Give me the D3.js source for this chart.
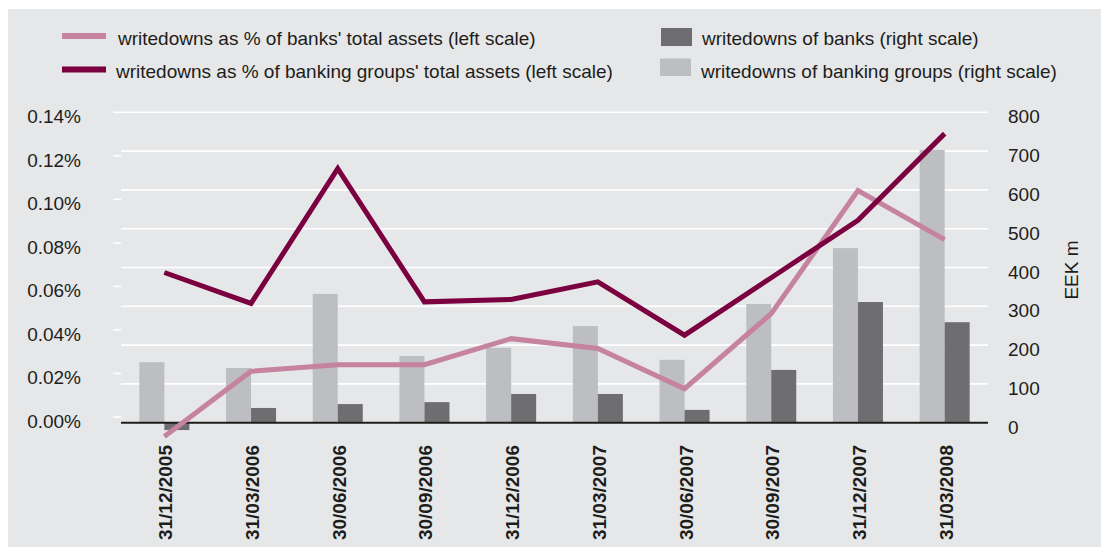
<!DOCTYPE html>
<html>
<head>
<meta charset="utf-8">
<script src="https://cdn.jsdelivr.net/npm/d3@7"></script>
<style>
  body { margin: 0; background: #ffffff; }
  text { font-family: "Liberation Sans", Arial, Helvetica, sans-serif; fill: #1d1d1b; }
</style>
</head>
<body>
<svg id="chart" width="1101" height="547"></svg>
<script>
// Quarter-end dates
const dates = ["31/12/2005", "31/03/2006", "30/06/2006", "30/09/2006", "31/12/2006",
               "31/03/2007", "30/06/2007", "30/09/2007", "31/12/2007", "31/03/2008"];

// Writedowns as % of total assets (left scale)
const banksShare  = [-0.009, 0.021, 0.024, 0.024, 0.036, 0.0315, 0.013, 0.0475, 0.104, 0.0815];
const groupsShare = [0.0664, 0.0522, 0.1141, 0.0529, 0.054, 0.0621, 0.0376, 0.064, 0.0904, 0.1302];

// Writedowns, EEK m (right scale)
const banksWritedowns  = [-19, 38, 48, 53, 74, 74, 33, 136, 311, 259];
const groupsWritedowns = [156, 141, 332, 172, 193, 249, 162, 306, 450, 703];

// Axis ticks
const leftTicks  = [0, 0.02, 0.04, 0.06, 0.08, 0.10, 0.12, 0.14];
const rightTicks = [0, 100, 200, 300, 400, 500, 600, 700, 800];

const colors = {
  banksLine: "#c583a0",
  groupsLine: "#7b0040",
  banksBar: "#6e6e70",
  groupsBar: "#bdbec1",
  bg: "#e6e7e8"
};

const svg = d3.select("#chart");

svg.append("rect")
  .attr("x", 8).attr("y", 9)
  .attr("width", 1093).attr("height", 538)
  .attr("fill", colors.bg);

const plot = { left: 121, right: 988 };

const x = d3.scaleBand()
  .domain(dates)
  .range([plot.left, plot.right])
  .paddingInner(0.423)
  .paddingOuter(0.2115);

const xSub = d3.scaleBand()
  .domain(["groups", "banks"])
  .range([0, x.bandwidth()]);

const yR = d3.scaleLinear().domain([0, 800]).range([422.7, 112.3]);
const yL = d3.scaleLinear().domain([0, 0.14]).range([417, 112.3]);

const cx = d => x(d) + x.bandwidth() / 2;

// Horizontal gridlines (right scale)
svg.append("g").selectAll("line")
  .data(rightTicks.filter(t => t > 0))
  .join("line")
  .attr("x1", plot.left).attr("x2", plot.right)
  .attr("y1", d => yR(d)).attr("y2", d => yR(d))
  .attr("stroke", "#ffffff").attr("stroke-width", 1.6);

// Left scale tick marks and labels
svg.append("g").selectAll("line")
  .data(leftTicks)
  .join("line")
  .attr("x1", 113).attr("x2", plot.left)
  .attr("y1", d => yL(d)).attr("y2", d => yL(d))
  .attr("stroke", "#ffffff").attr("stroke-width", 1.6);

svg.append("g").selectAll("text")
  .data(leftTicks)
  .join("text")
  .attr("x", 81)
  .attr("y", d => yL(d) + 11)
  .attr("text-anchor", "end")
  .attr("font-size", 19)
  .text(d => d.toFixed(2) + "%");

// Right scale labels
svg.append("g").selectAll("text")
  .data(rightTicks)
  .join("text")
  .attr("x", 1008)
  .attr("y", d => yR(d) + 11)
  .attr("font-size", 19)
  .text(d => d);

svg.append("text")
  .attr("transform", "translate(1077.5,270) rotate(-90)")
  .attr("text-anchor", "middle")
  .attr("font-size", 19)
  .text("EEK m");

// Bars
const barRect = (sel, key, values, fill) => {
  sel.selectAll("rect." + key)
    .data(dates.map((d, i) => ({ d, v: values[i] })))
    .join("rect")
    .attr("class", key)
    .attr("x", p => x(p.d) + xSub(key))
    .attr("width", xSub.bandwidth())
    .attr("y", p => Math.min(yR(p.v), yR(0)))
    .attr("height", p => Math.abs(yR(p.v) - yR(0)))
    .attr("fill", fill);
};
const bars = svg.append("g");
barRect(bars, "groups", groupsWritedowns, colors.groupsBar);
barRect(bars, "banks", banksWritedowns, colors.banksBar);

// Zero line
svg.append("line")
  .attr("x1", plot.left).attr("x2", plot.right)
  .attr("y1", yR(0)).attr("y2", yR(0))
  .attr("stroke", "#1d1d1b").attr("stroke-width", 2);

// Lines (left scale)
const line = d3.line()
  .x((v, i) => cx(dates[i]))
  .y(v => yL(v));

svg.append("path")
  .datum(banksShare)
  .attr("d", line)
  .attr("fill", "none")
  .attr("stroke", colors.banksLine)
  .attr("stroke-width", 5)
  .attr("stroke-linejoin", "miter");

svg.append("path")
  .datum(groupsShare)
  .attr("d", line)
  .attr("fill", "none")
  .attr("stroke", colors.groupsLine)
  .attr("stroke-width", 5)
  .attr("stroke-linejoin", "miter");

// Category labels
svg.append("g").selectAll("text")
  .data(dates)
  .join("text")
  .attr("transform", d => `translate(${cx(d) + 8},445) rotate(-90)`)
  .attr("text-anchor", "end")
  .attr("font-size", 19)
  .attr("font-weight", "bold")
  .text(d => d);

// Legend
const legend = svg.append("g");
legend.append("line")
  .attr("x1", 62).attr("x2", 106).attr("y1", 36).attr("y2", 36)
  .attr("stroke", colors.banksLine).attr("stroke-width", 6);
legend.append("text").attr("x", 118).attr("y", 44.5).attr("font-size", 19)
  .text("writedowns as % of banks' total assets (left scale)");

legend.append("line")
  .attr("x1", 62).attr("x2", 106).attr("y1", 69.5).attr("y2", 69.5)
  .attr("stroke", colors.groupsLine).attr("stroke-width", 6);
legend.append("text").attr("x", 116).attr("y", 78).attr("font-size", 19)
  .text("writedowns as % of banking groups' total assets (left scale)");

legend.append("rect")
  .attr("x", 661).attr("y", 28).attr("width", 31).attr("height", 18)
  .attr("fill", colors.banksBar);
legend.append("text").attr("x", 702).attr("y", 44.5).attr("font-size", 19)
  .text("writedowns of banks (right scale)");

legend.append("rect")
  .attr("x", 660).attr("y", 58.5).attr("width", 31).attr("height", 17.5)
  .attr("fill", colors.groupsBar);
legend.append("text").attr("x", 701).attr("y", 78).attr("font-size", 19)
  .text("writedowns of banking groups (right scale)");
</script>
</body>
</html>
